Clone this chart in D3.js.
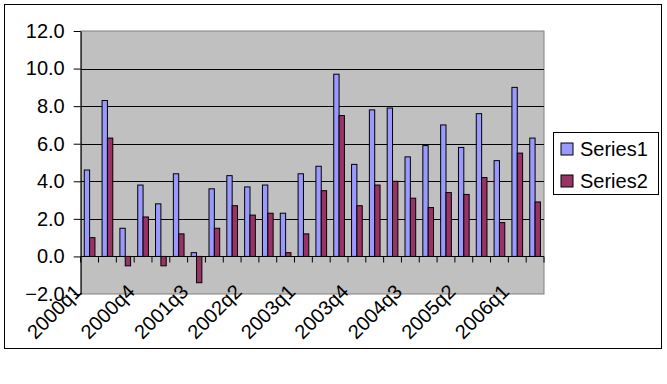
<!DOCTYPE html>
<html>
<head>
<meta charset="utf-8">
<script src="https://cdn.jsdelivr.net/npm/d3@7"></script>
<style>
  html, body { margin: 0; padding: 0; background: #fff; }
  svg text { font-family: "Liberation Sans", Arial, sans-serif; }
</style>
</head>
<body>
<svg id="chart" width="667" height="384"></svg>
<script>
const categories = ["2000q1","2000q2","2000q3","2000q4","2001q1","2001q2","2001q3","2001q4",
  "2002q1","2002q2","2002q3","2002q4","2003q1","2003q2","2003q3","2003q4",
  "2004q1","2004q2","2004q3","2004q4","2005q1","2005q2","2005q3","2005q4","2006q1","2006q2"];
const series1 = [4.6, 8.3, 1.5, 3.8, 2.8, 4.4, 0.2, 3.6, 4.3, 3.7, 3.8, 2.3, 4.4, 4.8, 9.7, 4.9, 7.8, 7.9, 5.3, 5.9, 7.0, 5.8, 7.6, 5.1, 9.0, 6.3];
const series2 = [1.0, 6.3, -0.5, 2.1, -0.5, 1.2, -1.4, 1.5, 2.7, 2.2, 2.3, 0.2, 1.2, 3.5, 7.5, 2.7, 3.8, 4.0, 3.1, 2.6, 3.4, 3.3, 4.2, 1.8, 5.5, 2.9];
const seriesNames = ["Series1", "Series2"];
const seriesColors = ["#9999ff", "#993366"];
const yTicks = [-2, 0, 2, 4, 6, 8, 10, 12];
const xLabelStep = 3;

const svg = d3.select("#chart");
const W = 667, H = 384;
const plot = { left: 80.7, right: 544, top: 31, bottom: 294 };

// outer chart border
svg.append("rect").attr("x", 4.5).attr("y", 4.5).attr("width", 657).attr("height", 344)
  .attr("fill", "#fff").attr("stroke", "#000").attr("stroke-width", 1);

const y = d3.scaleLinear().domain([-2, 12]).range([plot.bottom, plot.top]);
const n = categories.length;
const xb = d3.scaleLinear().domain([0, n]).range([plot.left, plot.right]);
const pad = 0.40;
const x0 = d3.scaleBand().domain(categories).range([plot.left, plot.right])
  .paddingInner(pad).paddingOuter(pad / 2);
const x1 = d3.scaleBand().domain(seriesNames).range([0, x0.bandwidth()]);

// plot area
svg.append("rect").attr("x", plot.left).attr("y", plot.top)
  .attr("width", plot.right - plot.left).attr("height", plot.bottom - plot.top)
  .attr("fill", "#c0c0c0").attr("stroke", "#808080").attr("stroke-width", 1);

// gridlines
svg.append("g").selectAll("line").data(yTicks.filter(t => t > 0 && t < 12)).join("line")
  .attr("x1", plot.left).attr("x2", plot.right)
  .attr("y1", d => Math.round(y(d)) + 0.5).attr("y2", d => Math.round(y(d)) + 0.5)
  .attr("stroke", "#000").attr("stroke-width", 1);

// bars
const rows = categories.map((c, i) => ({ cat: c, vals: [series1[i], series2[i]] }));
const groups = svg.append("g").selectAll("g").data(rows).join("g")
  .attr("transform", d => `translate(${x0(d.cat)},0)`);
groups.selectAll("rect").data(d => d.vals.map((v, k) => ({ v, k }))).join("rect")
  .attr("x", d => x1(seriesNames[d.k]))
  .attr("width", x1.bandwidth())
  .attr("y", d => y(Math.max(0, d.v)))
  .attr("height", d => Math.abs(y(d.v) - y(0)))
  .attr("fill", d => seriesColors[d.k])
  .attr("stroke", "#000").attr("stroke-width", 1);

// x axis line at zero + ticks
const zeroY = Math.round(y(0)) + 0.5;
svg.append("line").attr("x1", plot.left).attr("x2", plot.right)
  .attr("y1", zeroY).attr("y2", zeroY).attr("stroke", "#000");
svg.append("g").selectAll("line").data(d3.range(0, n + 1)).join("line")
  .attr("x1", d => xb(d)).attr("x2", d => xb(d))
  .attr("y1", zeroY).attr("y2", zeroY + 6)
  .attr("stroke", "#000");

// y axis
const yAxis = d3.axisLeft(y).tickValues(yTicks).tickFormat(d3.format(".1f"))
  .tickSize(7).tickSizeOuter(0).tickPadding(9);
const gy = svg.append("g").attr("transform", `translate(${plot.left},0)`).call(yAxis);
gy.select(".domain").attr("stroke", "#000");
gy.selectAll(".tick line").attr("stroke", "#000");
gy.selectAll(".tick text").attr("font-size", 20).attr("fill", "#000")
  .attr("font-family", "'Liberation Sans', Arial, sans-serif");

// x labels
svg.append("g").selectAll("text")
  .data(categories.map((c, i) => ({ c, i })).filter(d => d.i % xLabelStep === 0))
  .join("text")
  .attr("transform", d => `translate(${xb(d.i) + 2},${293}) rotate(-45)`)
  .attr("text-anchor", "end")
  .attr("font-size", 20).attr("fill", "#000")
  .text(d => d.c);

// legend
const lg = svg.append("g");
lg.append("rect").attr("x", 553.5).attr("y", 132.5).attr("width", 105).attr("height", 62)
  .attr("fill", "#fff").attr("stroke", "#000");
seriesNames.forEach((s, k) => {
  const yy = 143 + k * 32;
  lg.append("rect").attr("x", 561).attr("y", yy).attr("width", 12).attr("height", 12)
    .attr("fill", seriesColors[k]).attr("stroke", "#000");
  lg.append("text").attr("x", 580).attr("y", yy + 13).attr("font-size", 20)
    .attr("fill", "#000").text(s);
});
</script>
</body>
</html>
